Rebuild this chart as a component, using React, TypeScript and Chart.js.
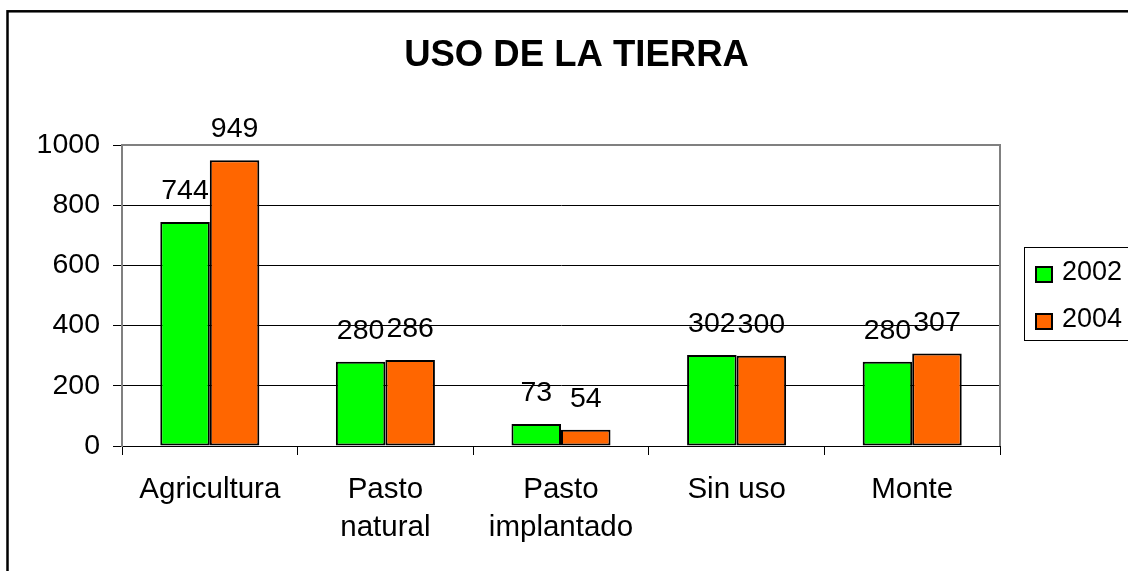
import React, { useEffect, useRef } from "react";
import { Chart, registerables } from "chart.js";

Chart.register(...registerables);

const chartTitle = "USO DE LA TIERRA";
const categories: string[][] = [["Agricultura"], ["Pasto", "natural"], ["Pasto", "implantado"], ["Sin uso"], ["Monte"]];
const seriesNames = ["2002", "2004"];
const values2002 = [744, 280, 73, 302, 280];
const values2004 = [949, 286, 54, 300, 307];
const yMin = 0;
const yMax = 1000;
const yStep = 200;
const seriesColors = ["#00FF00", "#FF6600"];

const FONT = "'Liberation Sans', Arial, Helvetica, sans-serif";

const decor = {
  id: "decor",
  beforeDraw(chart: any) {
    const ctx = chart.ctx;
    ctx.save();
    ctx.fillStyle = "#fff";
    ctx.fillRect(0, 0, chart.width, chart.height);
    ctx.strokeStyle = "#000";
    ctx.lineWidth = 2.5;
    ctx.strokeRect(7.5, 11.3, chart.width + 20, chart.height + 20);
    ctx.fillStyle = "#000";
    ctx.font = `bold 36.5px ${FONT}`;
    ctx.textAlign = "center";
    ctx.textBaseline = "alphabetic";
    ctx.fillText(chartTitle, 576.5, 66);
    ctx.restore();
  },
  beforeDatasetsDraw(chart: any) {
    const { ctx, chartArea } = chart;
    ctx.save();
    ctx.strokeStyle = "#808080";
    ctx.lineWidth = 2;
    ctx.beginPath();
    ctx.moveTo(chartArea.left, chartArea.top);
    ctx.lineTo(chartArea.right, chartArea.top);
    ctx.lineTo(chartArea.right, chartArea.bottom);
    ctx.stroke();
    ctx.restore();
  },
  afterDatasetsDraw(chart: any) {
    const ctx = chart.ctx;
    ctx.save();
    ctx.fillStyle = "#000";
    ctx.font = `28.5px ${FONT}`;
    ctx.textAlign = "center";
    ctx.textBaseline = "alphabetic";
    chart.data.datasets.forEach((ds: any, di: number) => {
      const meta = chart.getDatasetMeta(di);
      meta.data.forEach((el: any, i: number) => {
        ctx.fillText(String(ds.data[i]), el.x, el.y - 23);
      });
    });
    ctx.restore();
  },
  afterDraw(chart: any) {
    const ctx = chart.ctx;
    ctx.save();
    ctx.strokeStyle = "#000";
    ctx.lineWidth = 1;
    ctx.strokeRect(1024.5, 247.5, 200, 93);
    ctx.font = `27px ${FONT}`;
    ctx.textAlign = "left";
    ctx.textBaseline = "alphabetic";
    chart.data.datasets.forEach((ds: any, di: number) => {
      const yTop = 267 + di * 47;
      ctx.fillStyle = ds.backgroundColor;
      ctx.fillRect(1036, yTop, 16, 15);
      ctx.lineWidth = 2;
      ctx.strokeStyle = "#000";
      ctx.strokeRect(1036, yTop, 16, 15);
      ctx.fillStyle = "#000";
      ctx.fillText(ds.label, 1062, yTop + 13);
    });
    ctx.restore();
  },
};

export default function App() {
  const ref = useRef<HTMLCanvasElement | null>(null);
  useEffect(() => {
    if (!ref.current) return;
    const chart = new Chart(ref.current, {
      type: "bar",
      data: {
        labels: categories,
        datasets: [
          {
            label: seriesNames[0],
            data: values2002,
            backgroundColor: seriesColors[0],
            borderColor: "#000",
            borderWidth: 2,
            borderSkipped: false,
            categoryPercentage: 0.564,
            barPercentage: 1,
          },
          {
            label: seriesNames[1],
            data: values2004,
            backgroundColor: seriesColors[1],
            borderColor: "#000",
            borderWidth: 2,
            borderSkipped: false,
            categoryPercentage: 0.564,
            barPercentage: 1,
          },
        ],
      },
      options: {
        responsive: false,
        animation: false,
        devicePixelRatio: 1,
        layout: { padding: { top: 145, left: 0, right: 128, bottom: 0 } },
        plugins: {
          legend: { display: false },
          title: { display: false },
          tooltip: { enabled: false },
        },
        scales: {
          x: {
            afterFit: (axis: any) => {
              axis.height = 125;
            },
            grid: {
              display: true,
              drawOnChartArea: false,
              drawTicks: true,
              tickLength: 9,
              offset: true,
              color: "#000",
            },
            border: { display: true, color: "#000", width: 1 },
            ticks: {
              color: "#000",
              font: { family: FONT, size: 29.5, lineHeight: 38 / 29.5 },
              padding: 16,
              maxRotation: 0,
              autoSkip: false,
            },
          },
          y: {
            min: yMin,
            max: yMax,
            afterFit: (axis: any) => {
              axis.width = 122;
            },
            grid: {
              color: (c: any) => (c.tick && c.tick.value === yMax ? "#808080" : "#000"),
              tickColor: "#000",
              tickLength: 9,
              lineWidth: 1,
            },
            border: { display: true, color: "#808080", width: 2 },
            ticks: {
              stepSize: yStep,
              color: "#000",
              padding: 13,
              font: { family: FONT, size: 28.5 },
              callback: (v: any) => String(v),
            },
          },
        },
      },
      plugins: [decor],
    });
    return () => chart.destroy();
  }, []);
  return (
    <div style={{ position: "fixed", left: 0, top: 0, width: 1128, height: 571, background: "#fff" }}>
      <canvas ref={ref} width={1128} height={571} style={{ display: "block" }} />
    </div>
  );
}
